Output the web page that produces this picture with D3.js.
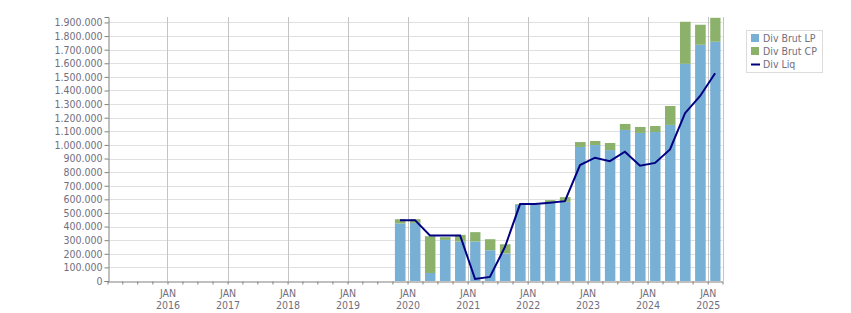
<!DOCTYPE html>
<style>
body { margin: 0; background: #fff; }
text { font-family: "DejaVu Sans Condensed", "DejaVu Sans", sans-serif; }
.axis .domain { stroke: #808080; }
.axis line { stroke: #808080; }
.axis text { fill: #6f6f80; font-size: 10.5px; }
</style>
<svg width="851" height="313"></svg>
<script src="https://cdnjs.cloudflare.com/ajax/libs/d3/7.8.5/d3.min.js"></script>
<script>

// quarter start of each bar
var quarters = ["2019-10", "2020-01", "2020-04", "2020-07", "2020-10", "2021-01", "2021-04", "2021-07",
                "2021-10", "2022-01", "2022-04", "2022-07", "2022-10", "2023-01", "2023-04", "2023-07",
                "2023-10", "2024-01", "2024-04", "2024-07", "2024-10", "2025-01"];
var brutLP = [423000, 427000, 59000, 302000, 290000, 290000, 226000, 202000,
              560000, 560000, 575000, 582000, 985000, 999000, 962000, 1110000,
              1088000, 1095000, 1147000, 1596000, 1736000, 1758000];
var brutCP = [31000, 27000, 270000, 20000, 49000, 69000, 81000, 68000,
              5000, 3000, 19000, 34000, 36000, 30000, 52000, 44000,
              44000, 44000, 139000, 309000, 147000, 176000];
var liq = [447000, 447000, 335000, 335000, 335000, 15000, 30000, 250000,
           565000, 565000, 575000, 587000, 852000, 906000, 881000, 950000,
           847000, 868000, 967000, 1233000, 1360000, 1527000];
var yTicks = d3.range(0, 2000000, 100000);
var legendKeys = ["Div Brut LP", "Div Brut CP", "Div Liq"];

var svg = d3.select("svg"),
    plotLeft = 107.5, plotRight = 722.5, plotTop = 17, plotBottom = 281;

var parse = d3.timeParse("%Y-%m");
var data = quarters.map(function(q, i) {
  var s = parse(q);
  return {start: s, end: d3.timeMonth.offset(s, 3), lp: brutLP[i], cp: brutCP[i], liq: liq[i]};
});

var x = d3.scaleTime()
    .domain([new Date(2015, 0, 1), new Date(2025, 3, 1)])
    .range([plotLeft, plotRight]);

var y = d3.scaleLinear()
    .domain([0, 1940000])
    .range([plotBottom, plotTop]);

var color = {lp: "#78b0d5", cp: "#8bb16b", liq: "#000080"};

var locale = d3.formatLocale({decimal: ",", thousands: ".", grouping: [3], currency: ["", ""]});
var fmt = locale.format(",d");

// horizontal grid
svg.append("g")
  .selectAll("line")
  .data(yTicks.slice(1))
  .enter().append("line")
    .attr("x1", plotLeft).attr("x2", plotRight)
    .attr("y1", function(d) { return Math.round(y(d)) + 0.5; })
    .attr("y2", function(d) { return Math.round(y(d)) + 0.5; })
    .attr("stroke", "#e0e0e0");

// vertical grid at January
var years = d3.timeYear.range(new Date(2016, 0, 1), new Date(2025, 1, 1));
svg.append("g")
  .selectAll("line")
  .data(years)
  .enter().append("line")
    .attr("x1", function(d) { return Math.round(x(d)) + 0.5; })
    .attr("x2", function(d) { return Math.round(x(d)) + 0.5; })
    .attr("y1", plotTop).attr("y2", plotBottom)
    .attr("stroke", "#c4c4c4");

// right border
svg.append("line")
    .attr("x1", Math.round(plotRight) + 0.5).attr("x2", Math.round(plotRight) + 0.5)
    .attr("y1", plotTop).attr("y2", plotBottom)
    .attr("stroke", "#c4c4c4");

// stacked bars
var bars = svg.append("g");
bars.selectAll("rect.lp")
  .data(data)
  .enter().append("rect")
    .attr("class", "lp")
    .attr("x", function(d) { return x(d.start) + 2.5; })
    .attr("width", function(d) { return x(d.end) - x(d.start) - 4.5; })
    .attr("y", function(d) { return y(d.lp); })
    .attr("height", function(d) { return y(0) - y(d.lp); })
    .attr("fill", color.lp);
bars.selectAll("rect.cp")
  .data(data)
  .enter().append("rect")
    .attr("class", "cp")
    .attr("x", function(d) { return x(d.start) + 2.5; })
    .attr("width", function(d) { return x(d.end) - x(d.start) - 4.5; })
    .attr("y", function(d) { return y(d.lp + d.cp); })
    .attr("height", function(d) { return y(d.lp) - y(d.lp + d.cp); })
    .attr("fill", color.cp);

// line
var line = d3.line()
    .x(function(d) { return (x(d.start) + x(d.end)) / 2; })
    .y(function(d) { return y(d.liq); });

svg.append("path")
    .datum(data)
    .attr("fill", "none")
    .attr("stroke", color.liq)
    .attr("stroke-width", 2)
    .attr("d", line);

// y axis
svg.append("g")
    .attr("class", "axis")
    .attr("transform", "translate(" + Math.round(plotLeft) + ".5,0)")
    .call(d3.axisLeft(y).tickValues(yTicks).tickFormat(fmt).tickSizeOuter(0).tickSize(4).tickPadding(2));

// x axis
var xAxis = svg.append("g")
    .attr("class", "axis")
    .attr("transform", "translate(0," + Math.round(plotBottom) + ".5)")
    .call(d3.axisBottom(x)
      .ticks(d3.timeMonth.every(3))
      .tickSize(3)
      .tickSizeOuter(0)
      .tickFormat(function(d) { return d.getMonth() === 0 && d.getFullYear() > 2015 ? "JAN" : ""; }));

xAxis.selectAll(".tick text")
    .attr("dy", "0.9em")
    .each(function(d) {
      if (d.getMonth() !== 0 || d.getFullYear() === 2015) return;
      d3.select(this).append("tspan")
        .attr("x", 0)
        .attr("dy", "1.15em")
        .text(d.getFullYear());
    });

// legend
var legend = svg.append("g")
    .attr("transform", "translate(746,30)");

legend.append("rect")
    .attr("x", 0.5).attr("y", 0.5)
    .attr("width", 76).attr("height", 42)
    .attr("fill", "#fff")
    .attr("stroke", "#dcdcdc");

var item = legend.selectAll("g")
  .data(legendKeys)
  .enter().append("g")
    .attr("transform", function(d, i) { return "translate(5," + (4 + i * 13) + ")"; });

item.filter(function(d, i) { return i < 2; })
  .append("rect")
    .attr("width", 8).attr("height", 8)
    .attr("fill", function(d, i) { return i === 0 ? color.lp : color.cp; });

item.filter(function(d, i) { return i === 2; })
  .append("line")
    .attr("x1", 0).attr("x2", 9)
    .attr("y1", 4.5).attr("y2", 4.5)
    .attr("stroke", color.liq)
    .attr("stroke-width", 2);

item.append("text")
    .attr("x", 12)
    .attr("y", 4)
    .attr("dy", "0.35em")
    .attr("font-size", "10.5px")
    .attr("fill", "#6f6f80")
    .text(function(d) { return d; });

</script>
